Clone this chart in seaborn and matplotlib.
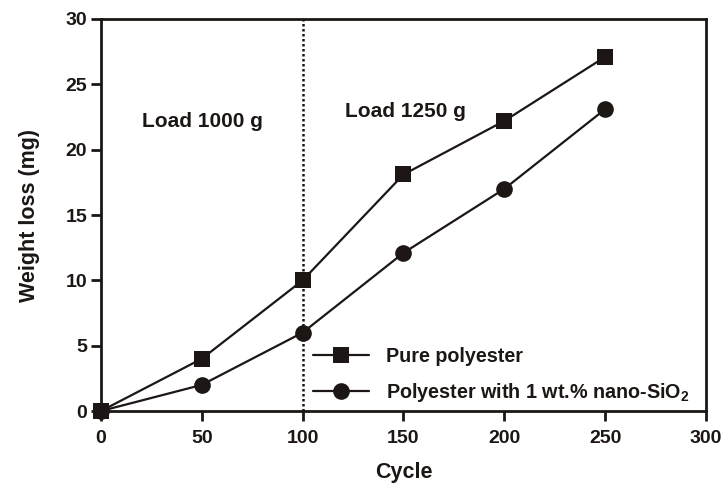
import matplotlib
matplotlib.use("Agg")
import matplotlib.pyplot as plt
import seaborn as sns
import pandas as pd

cycles = [0, 50, 100, 150, 200, 250]
pure = [0, 4.0, 10.0, 18.1, 22.2, 27.1]
nano = [0, 2.0, 6.0, 12.1, 17.0, 23.1]
series_names = ["Pure polyester", "Polyester with 1 wt.% nano-SiO$_2$"]
xticks = [0, 50, 100, 150, 200, 250, 300]
yticks = [0, 5, 10, 15, 20, 25, 30]

df = pd.DataFrame({
    "Cycle": cycles * 2,
    "Weight loss (mg)": pure + nano,
    "Series": [series_names[0]] * len(cycles) + [series_names[1]] * len(cycles),
})

sns.set_style("ticks")
plt.rcParams['font.family'] = ['Liberation Sans', 'DejaVu Sans']
plt.rcParams['font.weight'] = 'bold'
plt.rcParams['mathtext.default'] = 'bf'
plt.rcParams['mathtext.fontset'] = 'custom'
plt.rcParams['mathtext.bf'] = 'Liberation Sans:bold'

col = '#1c1714'
fig = plt.figure(figsize=(7.26, 4.83), dpi=100)
ax = fig.add_axes([0.139, 0.149, 0.8335, 0.8117])

sns.lineplot(data=df, x="Cycle", y="Weight loss (mg)", hue="Series", style="Series",
             markers={series_names[0]: "s", series_names[1]: "o"}, dashes=False,
             palette={series_names[0]: col, series_names[1]: col},
             markersize=12, linewidth=1.6, markeredgewidth=0, ax=ax, legend=True)
for ln in ax.lines:
    ln.set_clip_on(False)
    ln.set_zorder(5)

ax.axvline(100, color=col, linestyle=(0, (1, 1)), linewidth=1.8, zorder=0)

ax.set_xlim(0, 300)
ax.set_ylim(0, 30)
ax.set_xticks(xticks)
ax.set_yticks(yticks)
ax.tick_params(direction='out', length=7, width=2, color=col, labelsize=14)
ax.tick_params(axis='x', pad=7)
ax.tick_params(axis='y', pad=3)
for lbl in ax.get_xticklabels() + ax.get_yticklabels():
    lbl.set_fontweight('bold')
    lbl.set_color(col)
for s in ax.spines.values():
    s.set_linewidth(2)
    s.set_color(col)
    s.set_visible(True)

ax.set_xlabel("Cycle", fontsize=15.5, fontweight='bold', labelpad=10.5, color=col)
ax.set_ylabel("Weight loss (mg)", fontsize=15.5, fontweight='bold', labelpad=18, color=col)

ax.text(50.3, 21.75, "Load 1000 g", fontsize=15, fontweight='bold', ha='center', va='baseline', color=col)
ax.text(151.2, 22.5, "Load 1250 g", fontsize=15, fontweight='bold', ha='center', va='baseline', color=col)

leg = ax.legend(loc='lower right', bbox_to_anchor=(0.988, -0.005), frameon=False,
                fontsize=14.2, handlelength=2.8, handletextpad=0.9, labelspacing=0.75,
                borderaxespad=0.05, markerscale=1.0)
for t in leg.get_texts():
    t.set_fontweight('bold')
    t.set_color(col)

fig.savefig("out.png", dpi=100)
